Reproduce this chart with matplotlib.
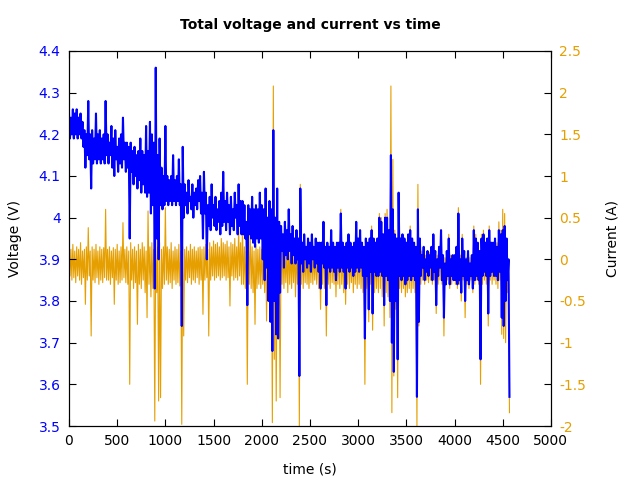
import matplotlib
matplotlib.use('Agg')
import matplotlib.pyplot as plt
import numpy as np
from matplotlib.ticker import FuncFormatter

# values in 20 s bins: top and bottom of each trace
t_step = 20

voltage_hi = [
    4.25, 4.24, 4.26, 4.25, 4.26, 4.24, 4.25, 4.23, 4.21, 4.20,
    4.28, 4.20, 4.21, 4.19, 4.25, 4.20, 4.21, 4.19, 4.20, 4.28,
    4.20, 4.18, 4.22, 4.19, 4.21, 4.17, 4.19, 4.20, 4.24, 4.18,
    4.18, 4.17, 4.18, 4.16, 4.17, 4.15, 4.16, 4.19, 4.16, 4.15,
    4.22, 4.16, 4.23, 4.20, 4.18, 4.36, 4.15, 4.19, 4.12, 4.10,
    4.22, 4.10, 4.09, 4.10, 4.15, 4.09, 4.10, 4.14, 4.08, 4.17,
    4.08, 4.06, 4.09, 4.05, 4.08, 4.06, 4.07, 4.09, 4.10, 4.06,
    4.11, 4.06, 4.03, 4.05, 4.08, 4.03, 4.05, 4.02, 4.04, 4.06,
    4.11, 4.04, 4.06, 4.03, 4.05, 4.02, 4.06, 4.03, 4.08, 4.04,
    4.04, 4.03, 3.99, 4.03, 4.02, 4.05, 4.02, 4.03, 4.02, 4.06,
    4.03, 4.02, 4.07, 4.00, 4.04, 4.02, 4.21, 4.00, 4.07, 3.99,
    3.98, 3.96, 3.99, 3.97, 4.02, 3.96, 3.98, 3.95, 3.97, 3.95,
    4.07, 3.94, 3.96, 3.93, 3.95, 3.94, 3.96, 3.93, 3.95, 3.94,
    3.94, 3.94, 3.99, 3.93, 3.94, 3.93, 3.97, 3.94, 3.93, 3.94,
    3.94, 4.01, 3.94, 3.93, 3.94, 3.96, 3.94, 3.93, 3.94, 3.99,
    3.95, 3.97, 3.94, 3.93, 3.95, 3.94, 3.95, 3.97, 3.95, 3.94,
    3.95, 4.00, 3.99, 3.96, 4.00, 4.00, 3.97, 4.15, 4.02, 3.96,
    3.95, 4.06, 3.95, 3.96, 3.95, 3.94, 3.96, 3.97, 3.95, 3.94,
    3.93, 4.02, 3.95, 3.91, 3.93, 3.90, 3.92, 3.91, 3.93, 3.96,
    3.92, 3.90, 3.93, 3.97, 3.91, 3.89, 3.92, 3.95, 3.90, 3.91,
    3.91, 3.93, 4.01, 3.90, 3.95, 3.92, 3.90, 3.92, 3.89, 3.91,
    3.97, 3.95, 3.94, 3.92, 3.95, 3.96, 3.94, 3.95, 3.97, 3.94,
    3.94, 3.95, 3.93, 3.97, 3.96, 3.97, 3.98, 3.95, 3.90,
]

voltage_lo = [
    4.19, 4.20, 4.19, 4.20, 4.19, 4.20, 4.19, 4.17, 4.12, 4.15,
    4.14, 4.07, 4.13, 4.14, 4.13, 4.14, 4.13, 4.14, 4.13, 4.15,
    4.13, 4.15, 4.12, 4.10, 4.14, 4.11, 4.13, 4.12, 4.14, 4.11,
    4.12, 3.95, 4.11, 4.08, 4.10, 4.07, 4.09, 4.06, 4.08, 4.06,
    4.05, 4.06, 4.01, 4.03, 3.83, 3.95, 3.90, 4.03, 4.02, 4.03,
    4.04, 4.03, 4.04, 4.03, 4.04, 4.03, 4.04, 4.03, 3.74, 4.00,
    4.03, 4.01, 4.04, 4.02, 4.00, 4.03, 4.02, 4.04, 4.01, 3.95,
    4.01, 3.90, 3.98, 3.97, 4.00, 3.98, 3.97, 3.99, 3.96, 3.98,
    3.99, 3.97, 3.99, 3.96, 3.98, 3.97, 4.00, 3.96, 3.98, 3.96,
    3.96, 3.95, 3.79, 3.96, 3.95, 3.94, 3.93, 3.95, 3.94, 3.95,
    3.90, 3.85, 3.88, 3.80, 3.75, 3.68, 3.80, 3.72, 3.71, 3.82,
    3.92, 3.88, 3.91, 3.90, 3.92, 3.89, 3.91, 3.89, 3.90, 3.62,
    3.89, 3.87, 3.90, 3.88, 3.89, 3.87, 3.90, 3.88, 3.89, 3.87,
    3.83, 3.89, 3.88, 3.79, 3.88, 3.87, 3.88, 3.87, 3.85, 3.88,
    3.87, 3.88, 3.87, 3.83, 3.88, 3.87, 3.88, 3.86, 3.87, 3.88,
    3.87, 3.88, 3.86, 3.71, 3.86, 3.78, 3.87, 3.77, 3.87, 3.86,
    3.86, 3.87, 3.86, 3.79, 3.86, 3.85, 3.80, 3.70, 3.63, 3.80,
    3.66, 3.86, 3.85, 3.86, 3.84, 3.85, 3.86, 3.85, 3.86, 3.85,
    3.57, 3.75, 3.86, 3.88, 3.85, 3.87, 3.86, 3.88, 3.85, 3.87,
    3.79, 3.86, 3.88, 3.85, 3.76, 3.84, 3.86, 3.84, 3.86, 3.85,
    3.85, 3.84, 3.85, 3.82, 3.86, 3.80, 3.85, 3.84, 3.86, 3.83,
    3.85, 3.86, 3.85, 3.66, 3.86, 3.87, 3.86, 3.77, 3.86, 3.87,
    3.86, 3.86, 3.85, 3.87, 3.76, 3.74, 3.80, 3.85, 3.57,
]

current_hi = [
    0.15, 0.12, 0.18, 0.10, 0.15, 0.12, 0.20, 0.10, 0.12, 0.15,
    0.38, 0.10, 0.15, 0.12, 0.18, 0.10, 0.15, 0.12, 0.14, 0.60,
    0.12, 0.15, 0.10, 0.14, 0.12, 0.18, 0.10, 0.15, 0.44, 0.12,
    0.15, 0.10, 0.20, 0.12, 0.15, 0.10, 0.18, 0.12, 0.20, 0.15,
    0.10, 0.58, 0.15, 0.20, 0.12, 0.25, 0.15, 0.20, 0.12, 0.15,
    0.62, 0.15, 0.12, 0.20, 0.10, 0.15, 0.12, 0.18, 0.10, 0.15,
    0.12, 0.15, 0.10, 0.18, 0.12, 0.15, 0.10, 0.14, 0.15, 0.12,
    0.15, 0.18, 0.12, 0.20, 0.15, 0.22, 0.18, 0.20, 0.15, 0.25,
    0.20, 0.18, 0.22, 0.15, 0.20, 0.18, 0.25, 0.15, 0.38, 0.20,
    0.38, 0.15, 0.10, 0.20, 0.34, 0.15, 0.10, 0.18, 0.12, 0.15,
    0.12, 0.15, 0.30, 0.10, 0.15, 0.20, 2.08, 0.15, 0.20, 0.12,
    0.12, 0.15, 0.10, 0.12, 0.20, 0.12, 0.10, 0.15, 0.12, 0.10,
    0.90, 0.15, 0.12, 0.15, 0.10, 0.15, 0.18, 0.12, 0.10, 0.15,
    0.10, 0.12, 0.45, 0.10, 0.12, 0.10, 0.35, 0.12, 0.10, 0.12,
    0.12, 0.60, 0.12, 0.10, 0.12, 0.25, 0.12, 0.10, 0.12, 0.45,
    0.15, 0.35, 0.12, 0.10, 0.15, 0.12, 0.15, 0.40, 0.15, 0.12,
    0.15, 0.55, 0.50, 0.25, 0.55, 0.60, 0.35, 2.08, 1.20, 0.35,
    0.20, 0.78, 0.15, 0.25, 0.15, 0.12, 0.20, 0.40, 0.15, 0.12,
    0.10, 0.90, 0.20, 0.10, 0.08, 0.05, 0.10, 0.08, 0.10, 0.30,
    0.10, 0.05, 0.10, 0.35, 0.05, 0.02, 0.05, 0.30, 0.05, 0.02,
    0.05, 0.10, 0.62, 0.05, 0.30, 0.05, 0.02, 0.05, 0.02, 0.05,
    0.40, 0.30, 0.20, 0.10, 0.30, 0.35, 0.20, 0.25, 0.40, 0.20,
    0.20, 0.25, 0.20, 0.45, 0.35, 0.60, 0.55, 0.25, 0.00,
]

current_lo = [
    -0.20, -0.25, -0.22, -0.28, -0.20, -0.25, -0.30, -0.22, -0.54, -0.25,
    -0.20, -0.92, -0.25, -0.28, -0.22, -0.30, -0.25, -0.28, -0.22, -0.25,
    -0.25, -0.30, -0.22, -0.54, -0.25, -0.30, -0.28, -0.25, -0.22, -0.28,
    -0.30, -1.50, -0.25, -0.35, -0.28, -0.78, -0.30, -0.35, -0.25, -0.40,
    -0.70, -0.30, -0.45, -0.35, -1.94, -0.40, -1.70, -1.66, -0.35, -0.30,
    -0.25, -0.30, -0.28, -0.35, -0.25, -0.30, -0.28, -0.32, -1.98, -0.92,
    -0.25, -0.28, -0.22, -0.30, -0.25, -0.28, -0.22, -0.30, -0.25, -0.66,
    -0.25, -0.22, -0.92, -0.25, -0.20, -0.25, -0.22, -0.20, -0.25, -0.22,
    -0.20, -0.25, -0.22, -0.56, -0.20, -0.25, -0.22, -0.25, -0.20, -0.30,
    -0.30, -0.35, -1.50, -0.30, -0.35, -0.40, -0.78, -0.35, -0.30, -0.35,
    -0.30, -0.40, -0.74, -0.45, -0.60, -1.96, -1.20, -1.70, -0.60, -1.66,
    -0.30, -0.35, -0.28, -0.40, -0.30, -0.35, -0.28, -0.45, -0.30, -2.00,
    -0.30, -0.35, -0.28, -0.30, -0.35, -0.28, -0.30, -0.25, -0.30, -0.35,
    -0.60, -0.30, -0.35, -0.92, -0.30, -0.35, -0.28, -0.30, -0.45, -0.30,
    -0.35, -0.30, -0.40, -0.54, -0.30, -0.35, -0.28, -0.40, -0.30, -0.35,
    -0.30, -0.35, -0.40, -1.50, -0.35, -0.75, -0.30, -0.85, -0.40, -0.35,
    -0.40, -0.35, -0.45, -0.80, -0.40, -0.45, -0.70, -1.84, -1.40, -0.60,
    -1.66, -0.35, -0.40, -0.35, -0.45, -0.40, -0.35, -0.40, -0.35, -0.40,
    -2.00, -0.80, -0.30, -0.25, -0.30, -0.25, -0.28, -0.25, -0.30, -0.25,
    -0.65, -0.30, -0.25, -0.30, -0.92, -0.30, -0.25, -0.35, -0.30, -0.25,
    -0.30, -0.35, -0.30, -0.50, -0.25, -0.70, -0.30, -0.35, -0.25, -0.40,
    -0.30, -0.25, -0.30, -1.50, -0.30, -0.25, -0.30, -0.80, -0.25, -0.30,
    -0.25, -0.30, -0.35, -0.25, -0.90, -0.95, -1.00, -0.40, -1.84,
]

# each bin drawn as its top then its bottom, half a bin apart
time = np.column_stack((np.arange(len(voltage_hi)) * t_step,
                        np.arange(len(voltage_hi)) * t_step + t_step / 2)).ravel()
voltage = np.column_stack((voltage_hi, voltage_lo)).ravel()
current = np.column_stack((current_hi, current_lo)).ravel()

blue = '#0000FF'
orange = '#E69F00'
fmt = FuncFormatter(lambda v, p: '%g' % v)

fig = plt.figure(figsize=(6.4, 4.8), dpi=100)
ax = fig.add_axes([0.1078, 0.1125, 0.753, 0.78125])
ax2 = ax.twinx()

ax2.plot(time, current, color=orange, linewidth=0.8)
ax.plot(time, voltage, color=blue, linewidth=1.5)
ax.set_zorder(ax2.get_zorder() + 1)
ax.patch.set_visible(False)

ax.set_xlim(0, 5000)
ax.set_ylim(3.5, 4.4)
ax2.set_ylim(-2, 2.5)
ax.set_xticks(np.arange(0, 5001, 500))
ax.set_yticks(np.arange(3.5, 4.41, 0.1))
ax2.set_yticks(np.arange(-2, 2.51, 0.5))
ax.yaxis.set_major_formatter(fmt)
ax2.yaxis.set_major_formatter(fmt)

ax.tick_params(axis='x', direction='in', top=True, length=5, labelsize=10, pad=6)
ax.tick_params(axis='y', direction='in', right=False, length=5, labelsize=10,
               labelcolor=blue, pad=6)
ax2.tick_params(axis='y', direction='in', length=5, labelsize=10,
                labelcolor=orange, pad=6)

ax.set_xlabel('time (s)', fontsize=10, labelpad=10)
ax.set_ylabel('Voltage (V)', fontsize=10, labelpad=12)
ax2.set_ylabel('Current (A)', fontsize=10, labelpad=14)
ax.set_title('Total voltage and current vs time', fontsize=10,
             fontweight='bold', pad=16)

plt.savefig('out.png', dpi=100)
